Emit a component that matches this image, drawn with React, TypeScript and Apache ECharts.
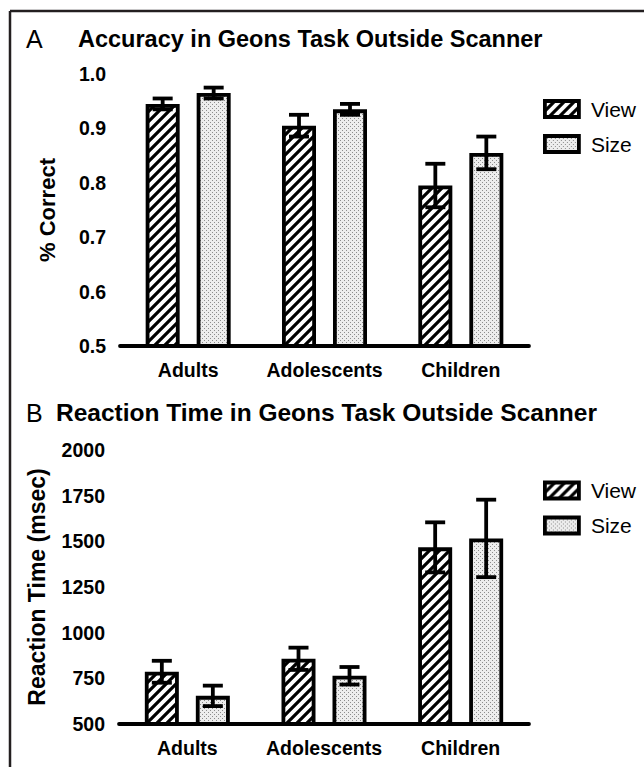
import React, { useEffect, useRef } from "react";
import * as echarts from "echarts";

const categories = ["Adults", "Adolescents", "Children"];
const seriesNames = ["View", "Size"];

// Panel A: accuracy (proportion correct) with error bars
const accView = [0.945, 0.905, 0.795];
const accViewErr = [0.01, 0.02, 0.04];
const accSize = [0.965, 0.935, 0.855];
const accSizeErr = [0.01, 0.01, 0.03];
const accTicks = { min: 0.5, max: 1.0, interval: 0.1 };

// Panel B: reaction time (msec) with error bars
const rtView = [786, 857, 1467];
const rtViewErr = [60, 61, 137];
const rtSize = [654, 764, 1516];
const rtSizeErr = [56, 48, 212];
const rtTicks = { min: 500, max: 2000, interval: 250 };

const FONT = '"Liberation Sans", Arial, Helvetica, sans-serif';
const BAR_W = 34;
const BAR_GAP_PX = 17;
const LW = 3.8;

function makeHatch() {
  const s = 10;
  const c = document.createElement("canvas");
  c.width = s;
  c.height = s;
  const g = c.getContext("2d")!;
  g.fillStyle = "#ffffff";
  g.fillRect(0, 0, s, s);
  g.strokeStyle = "#000000";
  g.lineWidth = 3.2;
  g.lineCap = "square";
  const segs = [
    [0, s, s, 0],
    [-s / 2, s / 2, s / 2, -s / 2],
    [s / 2, (3 * s) / 2, (3 * s) / 2, s / 2],
  ];
  segs.forEach(([a, b, d, e]) => {
    g.beginPath();
    g.moveTo(a, b);
    g.lineTo(d, e);
    g.stroke();
  });
  return { image: c, repeat: "repeat", imageWidth: s, imageHeight: s };
}

function makeDots() {
  const s = 4;
  const c = document.createElement("canvas");
  c.width = s;
  c.height = s;
  const g = c.getContext("2d")!;
  g.fillStyle = "#ededed";
  g.fillRect(0, 0, s, s);
  g.fillStyle = "#8c8c8c";
  g.fillRect(0, 0, 1, 1);
  g.fillRect(2, 2, 1, 1);
  return { image: c, repeat: "repeat", imageWidth: s, imageHeight: s };
}

function errSeries(name: string, axis: number, vals: number[], errs: number[], side: number) {
  return {
    type: "custom",
    name: name + "-err",
    xAxisIndex: axis,
    yAxisIndex: axis,
    z: 5,
    clip: false,
    data: vals.map((v, i) => [i, v, errs[i]]),
    encode: { x: 0, y: 1 },
    renderItem: (params: any, api: any) => {
      const i = api.value(0);
      const v = api.value(1);
      const e = api.value(2);
      const top = api.coord([i, v + e]);
      const bot = api.coord([i, v - e]);
      const x = top[0] + side * (BAR_W + BAR_GAP_PX) / 2;
      const cap = 10;
      const style = { stroke: "#000", lineWidth: LW, fill: null };
      return {
        type: "group",
        children: [
          { type: "line", shape: { x1: x, y1: top[1], x2: x, y2: bot[1] }, style },
          { type: "line", shape: { x1: x - cap, y1: top[1], x2: x + cap, y2: top[1] }, style },
          { type: "line", shape: { x1: x - cap, y1: bot[1], x2: x + cap, y2: bot[1] }, style },
        ],
      };
    },
  };
}

export default function App() {
  const ref = useRef<HTMLDivElement>(null);

  useEffect(() => {
    if (!ref.current) return;
    const chart = echarts.init(ref.current, null, { renderer: "svg" });
    const hatch = makeHatch();
    const dots = makeDots();
    const fills = [hatch, dots];

    const axisCommon = {
      axisLine: { lineStyle: { color: "#000", width: LW } },
      axisTick: { lineStyle: { color: "#000", width: LW }, length: 8 },
      splitLine: { show: false },
    };

    const xAxis = (idx: number) => ({
      type: "category",
      gridIndex: idx,
      data: categories,
      ...axisCommon,
      axisTick: { ...axisCommon.axisTick, alignWithLabel: true },
      axisLabel: { fontFamily: FONT, fontWeight: "bold", fontSize: 19.5, color: "#000", margin: 14, interval: 0, hideOverlap: false },
    });

    const bar = (name: string, idx: number, data: number[], k: number) => ({
      type: "bar",
      name,
      xAxisIndex: idx,
      yAxisIndex: idx,
      data,
      barWidth: BAR_W,
      barGap: (BAR_GAP_PX / BAR_W) * 100 + "%",
      itemStyle: { color: fills[k], borderColor: "#000", borderWidth: LW },
      emphasis: { disabled: true },
    });

    const legend = (top: number) => ({
      data: seriesNames,
      left: 538,
      top,
      orient: "vertical",
      icon: "rect",
      itemWidth: 34,
      itemHeight: 16,
      itemGap: 14,
      selectedMode: false,
      itemStyle: { borderColor: "#000", borderWidth: LW },
      textStyle: { fontFamily: FONT, fontSize: 21, color: "#000", lineHeight: 20, padding: [0, 0, 0, 7] },
    });

    const yLabel = { fontFamily: FONT, fontWeight: "bold", fontSize: 19.5, color: "#000", margin: 14 };

    chart.setOption({
      animation: false,
      backgroundColor: "#fff",
      title: [
        { text: "A", left: 26, top: 26, padding: 0, textStyle: { fontFamily: FONT, fontSize: 25, fontWeight: "normal", color: "#000" } },
        { text: "Accuracy in Geons Task Outside Scanner", left: 78, top: 27, padding: 0, textStyle: { fontFamily: FONT, fontSize: 23.5, fontWeight: "bold", color: "#000" } },
        { text: "B", left: 26, top: 400, padding: 0, textStyle: { fontFamily: FONT, fontSize: 25, fontWeight: "normal", color: "#000" } },
        { text: "Reaction Time in Geons Task Outside Scanner", left: 56, top: 400, padding: 0, textStyle: { fontFamily: FONT, fontSize: 24.5, fontWeight: "bold", color: "#000" } },
      ],
      legend: [legend(93.5), legend(475)],
      grid: [
        { left: 120, top: 74, width: 409, height: 272 },
        { left: 119, top: 450, width: 410, height: 274 },
      ],
      xAxis: [xAxis(0), xAxis(1)],
      yAxis: [
        {
          type: "value",
          gridIndex: 0,
          ...accTicks,
          ...axisCommon,
          axisLabel: { ...yLabel, formatter: (v: number) => v.toFixed(1) },
          name: "% Correct",
          nameLocation: "middle",
          nameGap: 62,
          nameTextStyle: { fontFamily: FONT, fontWeight: "bold", fontSize: 22, color: "#000" },
        },
        {
          type: "value",
          gridIndex: 1,
          ...rtTicks,
          ...axisCommon,
          axisLabel: { ...yLabel, formatter: (v: number) => String(v) },
          name: "Reaction Time (msec)",
          nameLocation: "middle",
          nameGap: 71,
          nameTextStyle: { fontFamily: FONT, fontWeight: "bold", fontSize: 23, color: "#000" },
        },
      ],
      series: [
        bar("View", 0, accView, 0),
        bar("Size", 0, accSize, 1),
        bar("View", 1, rtView, 0),
        bar("Size", 1, rtSize, 1),
        errSeries("View", 0, accView, accViewErr, -1),
        errSeries("Size", 0, accSize, accSizeErr, 1),
        errSeries("View", 1, rtView, rtViewErr, -1),
        errSeries("Size", 1, rtSize, rtSizeErr, 1),
      ],
      graphic: [
        { type: "line", shape: { x1: 10, y1: 11, x2: 644, y2: 11 }, style: { stroke: "#231f20", lineWidth: 2.5 } },
        { type: "line", shape: { x1: 10, y1: 11, x2: 10, y2: 767 }, style: { stroke: "#231f20", lineWidth: 2.5 } },
      ],
    });

    return () => chart.dispose();
  }, []);

  return (
    <div
      ref={ref}
      style={{ position: "absolute", left: 0, top: 0, width: 644, height: 767, background: "#fff" }}
    />
  );
}
